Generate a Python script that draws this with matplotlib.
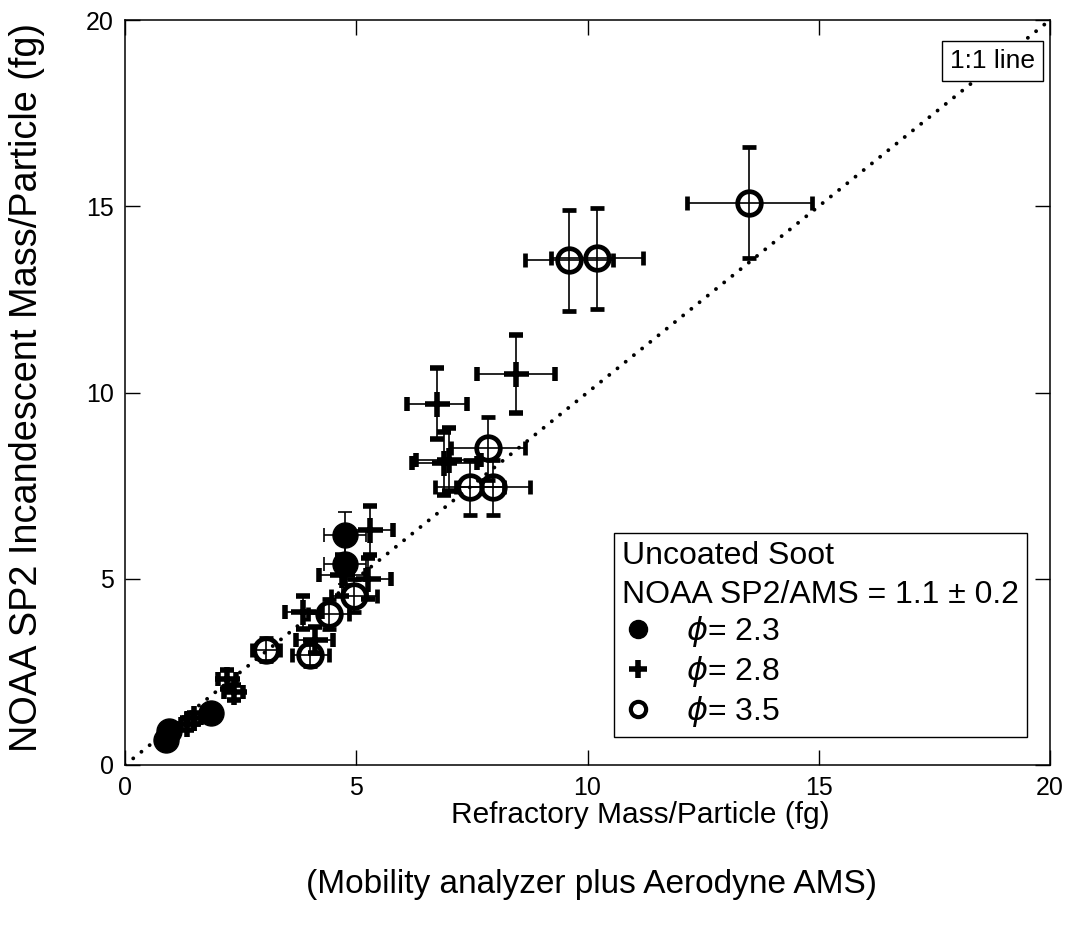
import numpy as np
import matplotlib
matplotlib.use("Agg")
import matplotlib.pyplot as plt
from matplotlib.lines import Line2D

plt.rcParams['font.family'] = ['Liberation Sans', 'DejaVu Sans']
plt.rcParams['mathtext.fontset'] = 'dejavusans'

# phi = 2.3 (filled circles)
x23 = [0.88, 0.95, 1.85, 4.75, 4.75]
y23 = [0.68, 0.92, 1.40, 5.40, 6.18]
xe23 = [0.10, 0.10, 0.20, 0.45, 0.45]
ye23 = [0.10, 0.10, 0.15, 0.55, 0.60]

# phi = 2.8 (crosses)
x28 = [1.35, 1.50, 2.20, 2.35, 3.85, 4.10, 4.70, 5.25, 5.30, 6.90, 7.00, 6.75, 8.45]
y28 = [1.10, 1.25, 2.30, 1.95, 4.10, 3.35, 5.10, 5.00, 6.30, 8.10, 8.20, 9.70, 10.50]
xe28 = [0.15, 0.15, 0.20, 0.20, 0.40, 0.40, 0.50, 0.50, 0.50, 0.70, 0.70, 0.65, 0.85]
ye28 = [0.15, 0.15, 0.25, 0.20, 0.45, 0.35, 0.55, 0.55, 0.65, 0.85, 0.85, 0.95, 1.05]

# phi = 3.5 (open circles)
x35 = [3.05, 4.00, 4.40, 4.95, 7.45, 7.95, 7.85, 9.60, 10.20, 13.50]
y35 = [3.10, 2.95, 4.05, 4.55, 7.45, 7.45, 8.50, 13.55, 13.60, 15.10]
xe35 = [0.30, 0.40, 0.45, 0.50, 0.75, 0.80, 0.80, 0.95, 1.00, 1.35]
ye35 = [0.30, 0.30, 0.40, 0.45, 0.75, 0.75, 0.85, 1.35, 1.35, 1.50]

one_to_one = [0, 20]
ticks = [0, 5, 10, 15, 20]

fig = plt.figure(figsize=(10.67, 9.33), dpi=100)
ax = fig.add_axes([125/1067, 1-765/933, 925/1067, 745/933])

ax.plot(one_to_one, one_to_one, color='black', lw=2.8,
        linestyle=(0, (0.01, 2.7)), dash_capstyle='round', zorder=1)

eb = dict(color='black', ecolor='black', elinewidth=1.2, capsize=5, capthick=1.2,
          linestyle='none', zorder=3)
ax.errorbar(x23, y23, xerr=xe23, yerr=ye23, marker='o', ms=18, mfc='black',
            mec='black', **eb)
ax.errorbar(x28, y28, xerr=xe28, yerr=ye28, marker='+', ms=18, mew=4, **eb)
ax.errorbar(x35, y35, xerr=xe35, yerr=ye35, marker='o', ms=17, mfc='none',
            mec='black', mew=3.4, **eb)

ax.set_xlim(0, 20)
ax.set_ylim(0, 20)
ax.set_xticks(ticks)
ax.set_yticks(ticks)
ax.tick_params(direction='in', length=11, width=1, top=True, right=True,
               labelsize=18, pad=8)
for s in ax.spines.values():
    s.set_linewidth(1.1)

fig.text(27/1067, 1-388/933, 'NOAA SP2 Incandescent Mass/Particle (fg)', fontsize=27.3,
         rotation=90, ha='center', va='center')
fig.text(640/1067, 1-815/933, 'Refractory Mass/Particle (fg)', fontsize=21.5,
         ha='center', va='center')
fig.text(592/1067, 1-885/933, '(Mobility analyzer plus Aerodyne AMS)', fontsize=24,
         ha='center', va='center')

ax.text(0.938, 0.945, '1:1 line', transform=ax.transAxes, fontsize=19,
        ha='center', va='center',
        bbox=dict(boxstyle='square,pad=0.3', fc='white', ec='black', lw=1))

handles = [
    Line2D([], [], marker='o', ls='none', color='black', ms=13),
    Line2D([], [], marker='+', ls='none', color='black', ms=13, mew=4),
    Line2D([], [], marker='o', ls='none', color='black', mfc='none', ms=11, mew=3),
]
labels = [r'$\phi$= 2.3', r'$\phi$= 2.8', r'$\phi$= 3.5']
leg = ax.legend(handles, labels, loc='lower right', bbox_to_anchor=(0.975, 0.0376),
                borderaxespad=0, fontsize=23, title='Uncoated Soot\nNOAA SP2/AMS = 1.1 ± 0.2',
                title_fontsize=23, alignment='left', fancybox=False, edgecolor='black',
                framealpha=1, labelspacing=0.15, handlelength=1.0, handletextpad=1.0,
                borderpad=0.25)
leg.get_frame().set_linewidth(1)
leg.get_title().set_linespacing(1.39)

fig.savefig('out.png', dpi=100)
